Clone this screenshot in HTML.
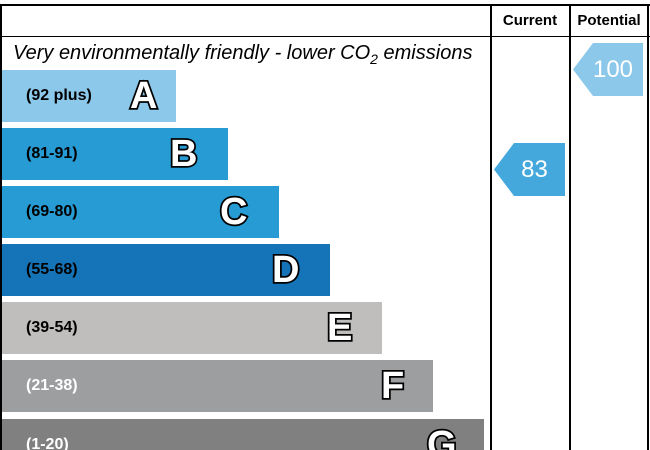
<!DOCTYPE html>
<html style="overflow:hidden;height:450px"><head><style>
body{margin:0;width:650px;height:450px;background:#fff;overflow:hidden;position:relative;font-family:"Liberation Sans",sans-serif}
.l{position:absolute;background:#000}
.bar{position:absolute;left:2px;height:52px;overflow:hidden}
.bar .r{position:absolute;left:24px;top:17px;font-weight:bold;font-size:16px}
.bar .g{position:absolute;top:4px;font-weight:bold;font-size:38px;line-height:44px;color:#fff;-webkit-text-stroke:3.5px #000;paint-order:stroke fill;font-family:"Liberation Sans",sans-serif}
.arr{position:absolute;height:53px;color:#fff;font-size:24px;line-height:53px;text-align:center}
</style></head><body>
<div class="l" style="left:0;top:4px;width:650px;height:2px"></div>
<div class="l" style="left:0;top:36px;width:650px;height:1px"></div>
<div class="l" style="left:0;top:4px;width:2px;height:446px"></div>
<div class="l" style="left:490px;top:4px;width:2px;height:446px"></div>
<div class="l" style="left:569px;top:4px;width:2px;height:446px"></div>
<div class="l" style="left:647px;top:4px;width:2px;height:446px"></div>
<div style="position:absolute;left:493px;top:12px;width:74px;text-align:center;font-weight:bold;font-size:15px">Current</div>
<div style="position:absolute;left:571px;top:12px;width:76px;text-align:center;font-weight:bold;font-size:15px">Potential</div>
<div style="position:absolute;left:13px;top:42px;font-style:italic;font-size:20px">Very environmentally friendly - lower CO<sub style="font-size:14px">2</sub> emissions</div>
<div class="bar" style="top:70px;width:174px;background:#8cc8ea"><span class="r">(92 plus)</span><span class="g" style="left:128px">A</span></div>
<div class="bar" style="top:128px;width:226px;background:#279bd4"><span class="r">(81-91)</span><span class="g" style="left:168px">B</span></div>
<div class="bar" style="top:186px;width:277px;background:#279bd4"><span class="r">(69-80)</span><span class="g" style="left:218px">C</span></div>
<div class="bar" style="top:244px;width:328px;background:#1574b8"><span class="r">(55-68)</span><span class="g" style="left:270px">D</span></div>
<div class="bar" style="top:302px;width:380px;background:#bfbebc"><span class="r">(39-54)</span><span class="g" style="left:325px">E</span></div>
<div class="bar" style="top:360px;width:431px;background:#9d9ea0"><span class="r" style="color:#fff">(21-38)</span><span class="g" style="left:379px">F</span></div>
<div class="bar" style="top:419px;width:482px;height:31px;background:#808080"><span class="r" style="color:#fff">(1-20)</span><span class="g" style="left:425px">G</span></div>
<div class="arr" style="left:494px;top:143px;width:71px;background:#45a8dc;clip-path:polygon(0 50%,20px 0,100% 0,100% 100%,20px 100%)"><span style="padding-left:10px">83</span></div>
<div class="arr" style="left:573px;top:43px;width:70px;background:#8cc8ea;clip-path:polygon(0 50%,20px 0,100% 0,100% 100%,20px 100%)"><span style="padding-left:10px">100</span></div>
</body></html>
